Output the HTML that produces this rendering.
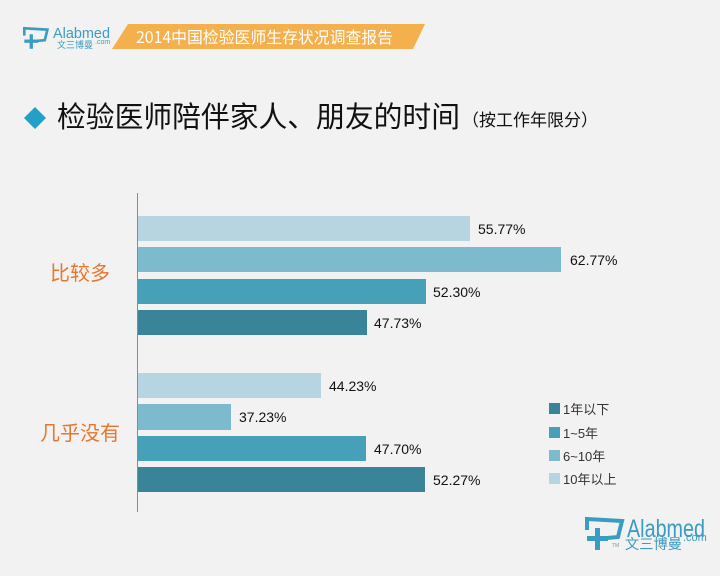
<!DOCTYPE html>
<html>
<head>
<meta charset="utf-8">
<style>
html,body{margin:0;padding:0;background:#f2f2f2;}
svg{display:block;}
text{font-family:"Liberation Sans","Noto Sans CJK SC",sans-serif;}
.cjk{font-family:"Noto Sans CJK SC","Liberation Sans",sans-serif;}
</style>
</head>
<body>
<svg width="720" height="576" viewBox="0 0 720 576" xmlns="http://www.w3.org/2000/svg">
<rect x="0" y="0" width="720" height="576" fill="#f2f2f2"/>

<!-- top logo -->
<g transform="translate(23,27) scale(0.66)" fill="none" stroke="#3b9cc1" stroke-width="4">
  <path d="M2,13 V2 L37,4 L33,20 L22,21"/>
  <rect x="10" y="11" width="5" height="22" fill="#3b9cc1" stroke="none"/>
  <rect x="2" y="19" width="21" height="5" fill="#3b9cc1" stroke="none"/>
</g>
<text x="53" y="38" font-size="15" fill="#3b9cc1" textLength="57" lengthAdjust="spacingAndGlyphs">Alabmed</text>
<text x="57" y="48" class="cjk" font-size="9" fill="#3b9cc1" textLength="36" lengthAdjust="spacingAndGlyphs">文三博曼</text>
<text x="95" y="44" font-size="7" fill="#3b9cc1">.com</text>

<!-- header band -->
<polygon points="128,24 425,24 413,49 112,49" fill="#f4b04c"/>
<text x="136" y="43" class="cjk" font-size="16" fill="#ffffff" textLength="257" lengthAdjust="spacingAndGlyphs">2014中国检验医师生存状况调查报告</text>

<!-- title -->
<polygon points="35,107 46,118 35,129 24,118" fill="#22a0c6"/>
<text x="57" y="127" class="cjk" font-size="29" fill="#111111" textLength="403" lengthAdjust="spacingAndGlyphs">检验医师陪伴家人、朋友的时间</text>
<text x="462" y="126" class="cjk" font-size="17" fill="#111111" textLength="136" lengthAdjust="spacingAndGlyphs">（按工作年限分）</text>

<!-- axis -->
<line x1="137.5" y1="193" x2="137.5" y2="512" stroke="#8a8a8a" stroke-width="1"/>

<!-- group 1 -->
<rect x="138" y="216" width="332" height="25" fill="#b7d5e1"/>
<rect x="138" y="247" width="423" height="25" fill="#7dbace"/>
<rect x="138" y="279" width="288" height="25" fill="#46a0b8"/>
<rect x="138" y="310" width="229" height="25" fill="#3a8499"/>
<g font-size="14" fill="#111111">
<text x="478" y="234">55.77%</text>
<text x="570" y="265">62.77%</text>
<text x="433" y="297">52.30%</text>
<text x="374" y="328">47.73%</text>
</g>

<!-- group 2 -->
<rect x="138" y="373" width="183" height="25" fill="#b7d5e1"/>
<rect x="138" y="404" width="93" height="26" fill="#7dbace"/>
<rect x="138" y="436" width="228" height="25" fill="#46a0b8"/>
<rect x="138" y="467" width="287" height="25" fill="#3a8499"/>
<g font-size="14" fill="#111111">
<text x="329" y="391">44.23%</text>
<text x="239" y="422">37.23%</text>
<text x="374" y="454">47.70%</text>
<text x="433" y="485">52.27%</text>
</g>

<!-- category labels -->
<text x="80" y="280" class="cjk" font-size="20" fill="#e8772e" text-anchor="middle">比较多</text>
<text x="80" y="440" class="cjk" font-size="20" fill="#e8772e" text-anchor="middle">几乎没有</text>

<!-- legend -->
<rect x="549" y="403" width="11" height="11" fill="#3a8499"/>
<rect x="549" y="427" width="11" height="11" fill="#46a0b8"/>
<rect x="549" y="450" width="11" height="11" fill="#7dbace"/>
<rect x="549" y="473" width="11" height="11" fill="#b7d5e1"/>
<g font-size="13" fill="#333333">
<text x="563" y="414">1年以下</text>
<text x="563" y="438">1~5年</text>
<text x="563" y="461">6~10年</text>
<text x="563" y="484">10年以上</text>
</g>

<!-- bottom logo -->
<g transform="translate(585,517)" fill="none" stroke="#3b9cc1" stroke-width="4">
  <path d="M2,13 V2 L37,4 L33,20 L22,21"/>
  <rect x="10" y="11" width="5" height="22" fill="#3b9cc1" stroke="none"/>
  <rect x="2" y="19" width="21" height="5" fill="#3b9cc1" stroke="none"/>
</g>
<text x="627" y="537" font-size="25" fill="#3b9cc1" textLength="78" lengthAdjust="spacingAndGlyphs">Alabmed</text>
<text x="625" y="549" class="cjk" font-size="14" fill="#3b9cc1" textLength="57" lengthAdjust="spacingAndGlyphs">文三博曼</text>
<text x="683" y="541" font-size="11" fill="#3b9cc1">.com</text>
<text x="612" y="547" font-size="5" fill="#7a9aa8">TM</text>
</svg>
</body>
</html>
